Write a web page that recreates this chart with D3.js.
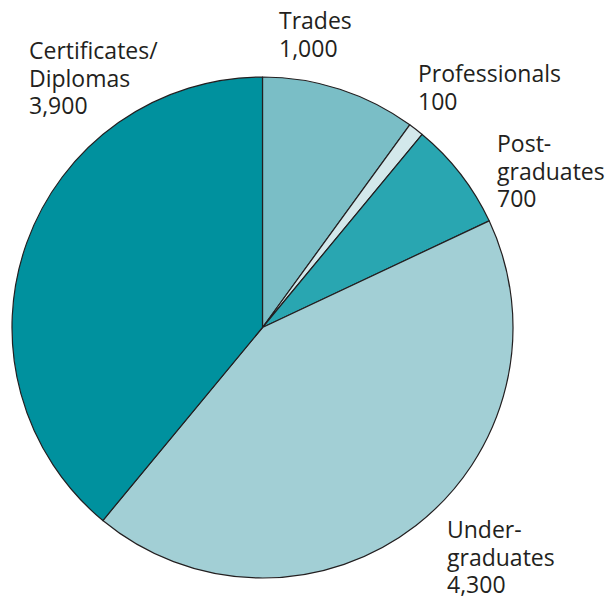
<!DOCTYPE html>
<html>
<head>
<meta charset="utf-8">
<script src="https://cdn.jsdelivr.net/npm/d3@7"></script>
<style>
  body { margin: 0; background: #fff; }
  text { font-family: "Open Sans", sans-serif; font-size: 23px; fill: #231f20; }
</style>
</head>
<body>
<svg id="chart" width="613" height="599"></svg>
<script>
// Data
var categories = ["Trades", "Professionals", "Post-graduates", "Undergraduates", "Certificates/Diplomas"];
var values = [1000, 100, 700, 4300, 3900];
var colors = ["#7abec6", "#d3e8eb", "#29a6b1", "#a2cfd5", "#00919e"];
// label lines for each slice
var labelLines = [
  ["Trades", "1,000"],
  ["Professionals", "100"],
  ["Post-", "graduates", "700"],
  ["Under-", "graduates", "4,300"],
  ["Certificates/", "Diplomas", "3,900"]
];
// label anchor (x, first baseline)
var labelPos = [[279, 29], [418, 82], [497, 152], [447, 538], [29, 59]];

var svg = d3.select("svg#chart");
var cx = 262.5, cy = 327.5, radius = 250.5;

var pie = d3.pie().sort(null).value(function (d) { return d; });
var arc = d3.arc().innerRadius(0).outerRadius(radius);

var g = svg.append("g").attr("transform", "translate(" + cx + "," + cy + ")");

g.selectAll("path")
  .data(pie(values))
  .join("path")
  .attr("d", arc)
  .attr("fill", function (d, i) { return colors[i]; })
  .attr("stroke", "#231f20")
  .attr("stroke-width", 1.2)
  .attr("stroke-linejoin", "round");

var labels = svg.selectAll("text.label")
  .data(labelLines)
  .join("text")
  .attr("class", "label")
  .attr("x", function (d, i) { return labelPos[i][0]; })
  .attr("y", function (d, i) { return labelPos[i][1]; });

labels.selectAll("tspan")
  .data(function (d, i) { return d.map(function (s) { return { s: s, i: i }; }); })
  .join("tspan")
  .attr("x", function (d) { return labelPos[d.i][0]; })
  .attr("dy", function (d, j) { return j === 0 ? 0 : 27.5; })
  .text(function (d) { return d.s; });
</script>
</body>
</html>
